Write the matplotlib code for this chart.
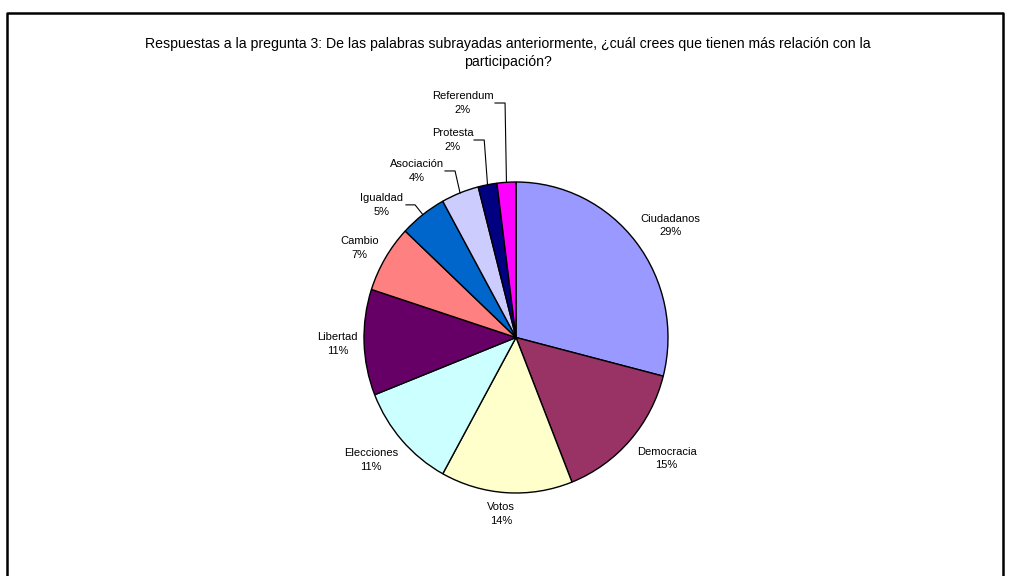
import numpy as np
import matplotlib
matplotlib.use("Agg")
import matplotlib.pyplot as plt
from matplotlib.lines import Line2D

plt.rcParams["font.family"] = ["Liberation Sans", "DejaVu Sans"]

W, H = 1009, 576
TITLE = ("Respuestas a la pregunta 3: De las palabras subrayadas anteriormente, "
         "¿cuál crees que tienen más relación con la\nparticipación?")

labels = ["Ciudadanos", "Democracia", "Votos", "Elecciones", "Libertad",
          "Cambio", "Igualdad", "Asociación", "Protesta", "Referendum"]
pcts = [29, 15, 14, 11, 11, 7, 5, 4, 2, 2]
colors = ["#9999FF", "#993366", "#FFFFCC", "#CCFFFF", "#660066",
          "#FF8080", "#0066CC", "#CCCCFF", "#000080", "#FF00FF"]

# label centres, in pie units (r = 1)
label_xy = [(1.017, 0.72), (0.991, -0.779), (-0.099, -1.135), (-0.956, -0.788),
            (-1.172, -0.042), (-1.029, 0.577), (-0.882, 0.853), (-0.653, 1.071),
            (-0.416, 1.27), (-0.352, 1.508)]
# leader lines for the thin slices: (label end x, elbow x)
leaders = {"Igualdad": (-0.724, -0.664), "Asociación": (-0.467, -0.401),
           "Protesta": (-0.276, -0.209), "Referendum": (-0.138, -0.072)}

fig = plt.figure(figsize=(W / 100, H / 100), dpi=100)

# pie box in pixels: x 364..668, y 182..493
ax = fig.add_axes([364 / W, (H - 493) / H, 304 / W, 311 / H])
wedges, _ = ax.pie(pcts, colors=colors, startangle=90, counterclock=False, radius=1,
                   wedgeprops=dict(edgecolor="black", linewidth=1.0))
ax.set_aspect("auto")
ax.set_xlim(-1, 1)
ax.set_ylim(-1, 1)
ax.axis("off")

for w, name, p, (tx, ty) in zip(wedges, labels, pcts, label_xy):
    ax.text(tx, ty, f"{name}\n{p}%", ha="center", va="center", fontsize=8,
            linespacing=1.45, color="black", clip_on=False)
    if name in leaders:
        x0, xe = leaders[name]
        mid = np.deg2rad((w.theta1 + w.theta2) / 2)
        ax.plot([x0, xe, np.cos(mid)], [ty, ty, np.sin(mid)], color="black",
                lw=0.8, clip_on=False)

fig.text(508 / W, 1 - 53 / H, TITLE, ha="center", va="center", fontsize=10.2,
         linespacing=1.45)

# chart-area frame (left, top, right; bottom runs off the image)
fx0, fx1, fy = 7 / W, 1003 / W, 1 - 13 / H
fig.add_artist(Line2D([fx0, fx0, fx1, fx1], [0, fy, fy, 0], color="black", lw=1.8,
                      transform=fig.transFigure))

fig.savefig("out.png", dpi=100, facecolor="white")
